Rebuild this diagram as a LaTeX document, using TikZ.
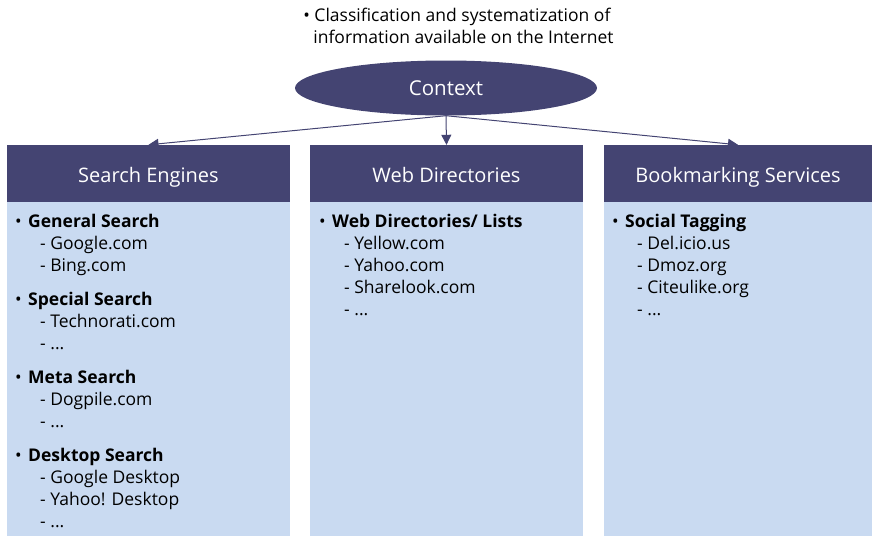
\documentclass[tikz,border=0pt]{standalone}
\usepackage{fontspec}
\setmainfont{Open Sans}
\usetikzlibrary{positioning,arrows.meta,shapes.geometric}
\definecolor{darkslate}{RGB}{68,68,114}
\definecolor{paleblue}{RGB}{201,218,241}
\newcommand{\itm}[1]{\makebox[13pt][l]{\textbullet}\textbf{#1}}
\newcommand{\dashitm}[1]{\hspace*{25pt}- #1}
\begin{document}
\begin{tikzpicture}[x=1pt,y=-1pt,
	head/.style={rectangle, fill=darkslate, text=white, minimum height=57pt, inner sep=0pt, text height=18pt, text depth=1pt, font=\fontsize{20}{22}\selectfont},
	panel/.style={rectangle, fill=paleblue, minimum height=334pt, inner sep=0pt},
	list/.style={align=left, inner sep=0pt, anchor=north west, font=\fontsize{17.5}{22}\selectfont},
	link/.style={darkslate, line width=1pt, -{Triangle[width=10pt,length=10pt]}}]
	\useasboundingbox (0,0) rectangle (872,536);
	\node[align=left, inner sep=0pt, font=\fontsize{17.5}{22}\selectfont] (note) at (458.5,26) {\textbullet\ Classification and systematization of\\ \hspace*{10pt}information available on the Internet};
	\node[ellipse, fill=darkslate, text=white, minimum width=302pt, minimum height=55pt, inner sep=0pt, text height=15pt, text depth=1pt, font=\fontsize{20.5}{22}\selectfont] (ctx) at (446,88) {Context};
	\node[head, minimum width=283pt] (se) at (148.5,173.5) {Search Engines};
	\node[head, minimum width=273pt] (wd) at (446.5,173.5) {Web Directories};
	\node[head, minimum width=268pt] (bs) at (738,173.5) {Bookmarking Services};
	\node[panel, minimum width=283pt, below=0pt of se] (sep) {};
	\node[panel, minimum width=273pt, below=0pt of wd] (wdp) {};
	\node[panel, minimum width=268pt, below=0pt of bs] (bsp) {};
	\node[list] (sel) at (15,213.5) {\itm{General Search}\\ \dashitm{Google.com}\\ \dashitm{Bing.com}\\[12pt]
		\itm{Special Search}\\ \dashitm{Technorati.com}\\ \dashitm{...}\\[12pt]
		\itm{Meta Search}\\ \dashitm{Dogpile.com}\\ \dashitm{...}\\[12pt]
		\itm{Desktop Search}\\ \dashitm{Google Desktop}\\ \dashitm{Yahoo! Desktop}\\ \dashitm{...}};
	\node[list] (wdl) at (319,213.5) {\itm{Web Directories/ Lists}\\ \dashitm{Yellow.com}\\ \dashitm{Yahoo.com}\\ \dashitm{Sharelook.com}\\ \dashitm{...}};
	\node[list] (bsl) at (612,213.5) {\itm{Social Tagging}\\ \dashitm{Del.icio.us}\\ \dashitm{Dmoz.org}\\ \dashitm{Citeulike.org}\\ \dashitm{...}};
	\draw[link] (ctx.south) -- (se.north);
	\draw[link] (ctx.south) -- (wd.north);
	\draw[link] (ctx.south) -- (bs.north);
\end{tikzpicture}
\end{document}
